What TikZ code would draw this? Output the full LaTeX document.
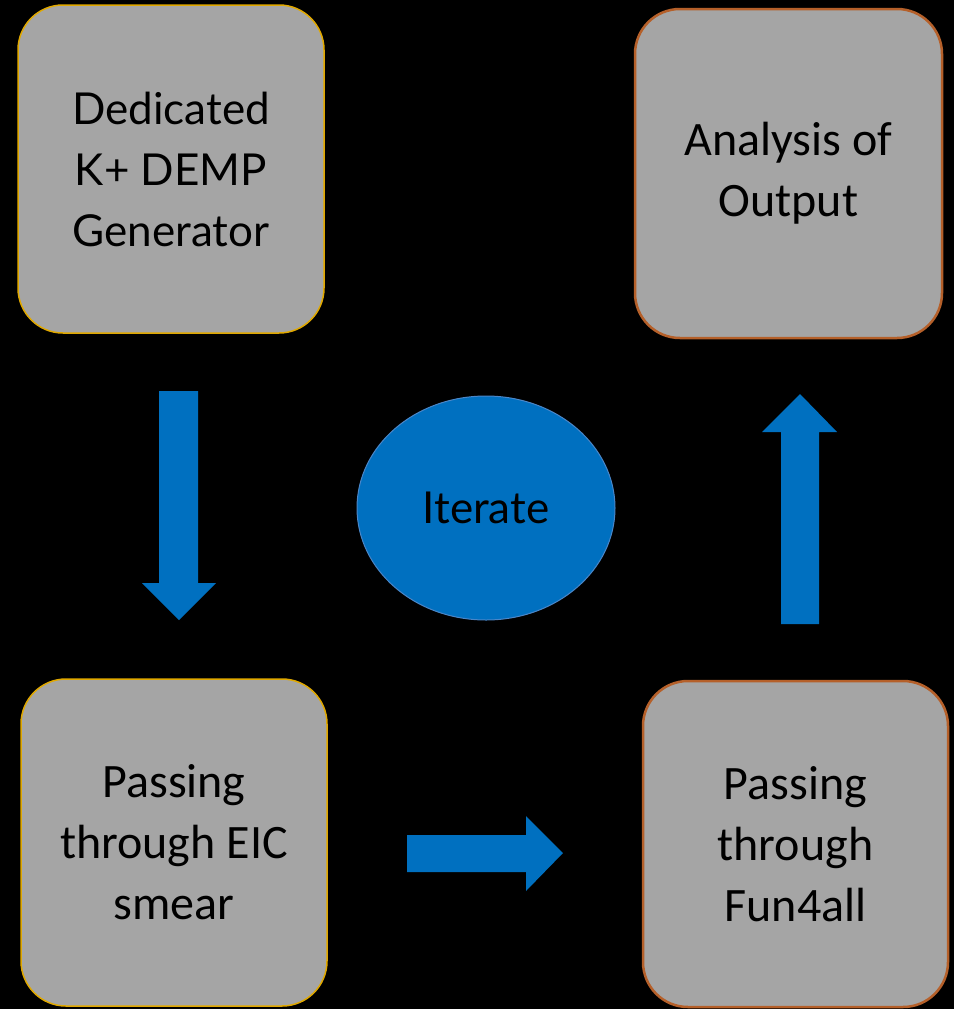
\documentclass[tikz,border=0pt]{standalone}
\usepackage{fontspec}
\setmainfont{Carlito}
\newfontfamily\latofont{Lato}
\usetikzlibrary{shapes.geometric}
\definecolor{boxgray}{HTML}{A5A5A5}
\definecolor{goldline}{HTML}{E0A800}
\definecolor{brownline}{HTML}{B5602A}
\definecolor{blockblue}{HTML}{0070C0}
\definecolor{ellline}{HTML}{4A86C8}
\tikzset{
  stepbox/.style={rounded corners=45pt, fill=boxgray, inner sep=0pt, align=center,
    text=black, font=\fontsize{48}{61}\selectfont},
  goldbox/.style={stepbox, draw=goldline, line width=1.5pt},
  brownbox/.style={stepbox, draw=brownline, line width=2.5pt},
  blockarrow/.style={fill=blockblue}
}
\begin{document}
\begin{tikzpicture}[x=1pt,y=-1pt]
\fill[black] (0,0) rectangle (954,1009);
\useasboundingbox (0,0) rectangle (954,1009);

\node[goldbox, minimum width=306pt, minimum height=328pt,
  font=\latofont\fontsize{44}{61}\selectfont] (gen) at (171,169)
  {Dedicated\\K+ DEMP\\Generator};
\node[brownbox, minimum width=307pt, minimum height=329pt] (ana) at (788.5,173.5)
  {Analysis of\\Output};
\node[goldbox, minimum width=306pt, minimum height=327pt] (eic) at (174,842.5)
  {Passing\\through EIC\\smear};
\node[brownbox, minimum width=305pt, minimum height=326pt] (fun) at (795.5,844)
  {Passing\\through\\Fun4all};

\node[ellipse, fill=blockblue, draw=ellline, line width=1pt, minimum width=258pt,
  minimum height=224pt, inner sep=0pt, font=\latofont\fontsize{44}{52}\selectfont]
  (iter) at (486,508) {Iterate};

% down arrow
\fill[blockarrow] (159,391) -- (198,391) -- (198,583) -- (216,583) -- (179,620)
  -- (142,583) -- (159,583) -- cycle;
% right arrow
\fill[blockarrow] (407,835) -- (526,835) -- (526,816) -- (563,853) -- (526,891)
  -- (526,872) -- (407,872) -- cycle;
% up arrow
\fill[blockarrow] (781,624) -- (781,432) -- (762,432) -- (800,394) -- (837,432)
  -- (819,432) -- (819,624) -- cycle;
\end{tikzpicture}
\end{document}
